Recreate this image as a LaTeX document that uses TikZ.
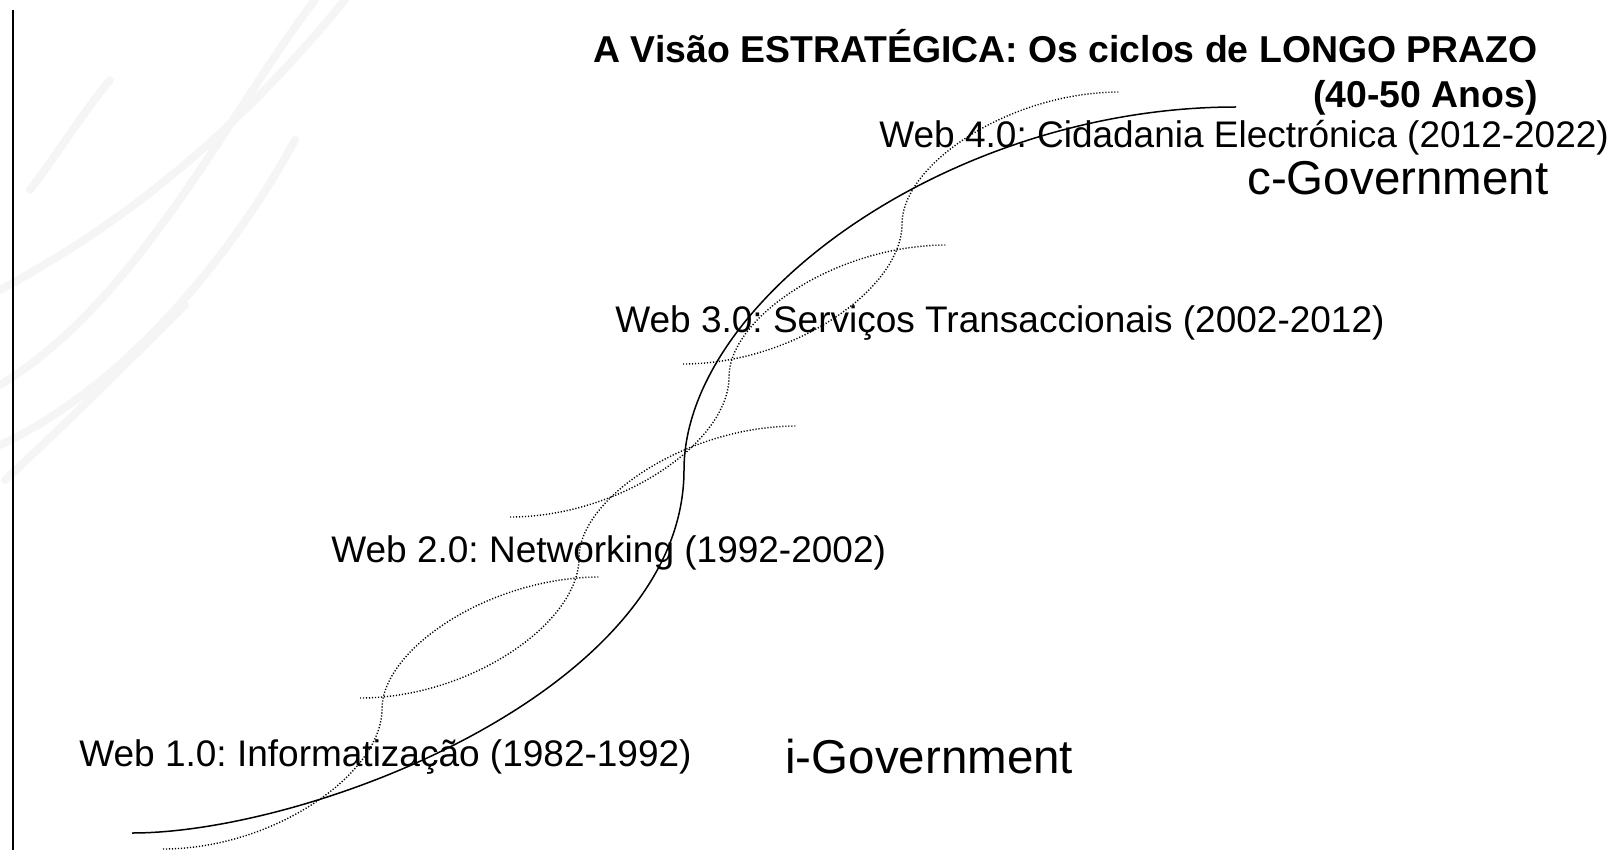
\documentclass[tikz,border=0pt]{standalone}
\usepackage{fontspec}
\setmainfont{Liberation Sans}
\frenchspacing

\begin{document}
\begin{tikzpicture}[x=0.5pt, y=-0.5pt,
    era/.style={anchor=base west, inner sep=0pt, font=\fontsize{18.5}{22.5}\selectfont},
    gov/.style={anchor=base west, inner sep=0pt, font=\fontsize{23.75}{28}\selectfont},
    wave/.style={line width=0.7pt, dash pattern=on 0.6pt off 0.9pt},
    swoosh/.style={black!4, line width=4pt, line cap=round}]
    \useasboundingbox (0,0) rectangle (1615,850);

    % faint background strokes
    \draw[swoosh] (0,290) .. controls (120,225) and (230,140) .. (345,0);
    \draw[swoosh] (0,385) .. controls (140,300) and (230,110) .. (315,0);
    \draw[swoosh] (0,445) .. controls (120,390) and (230,260) .. (295,140);
    \draw[swoosh] (5,480) .. controls (70,420) and (140,350) .. (185,305);
    \draw[swoosh] (30,190) .. controls (60,150) and (85,110) .. (110,80);

    % left rule
    \draw[line width=0.6pt] (13,10) -- (13,850);

    % title
    \node[anchor=base east, inner sep=0pt, align=right, font=\bfseries\fontsize{18.7}{22.5}\selectfont] (title) at (1538,108) {A Visão ESTRATÉGICA: Os ciclos de LONGO PRAZO\\(40-50 Anos)};

    % long cycle
    \draw[line width=0.75pt] (132,833) .. controls (310,833) and (684,690) .. (684,470)
        .. controls (684,300) and (950,107) .. (1236,107);

    % short cycles
    \draw[wave, shift={(163,849)}] (0,0) .. controls (110,0) and (219,-75) .. (219,-140) .. controls (219,-200) and (327,-272) .. (437,-272);
    \draw[wave, shift={(360,698)}] (0,0) .. controls (110,0) and (219,-75) .. (219,-140) .. controls (219,-200) and (327,-272) .. (437,-272);
    \draw[wave, shift={(510,517)}] (0,0) .. controls (110,0) and (219,-75) .. (219,-140) .. controls (219,-200) and (327,-272) .. (437,-272);
    \draw[wave, shift={(683,364)}] (0,0) .. controls (110,0) and (219,-75) .. (219,-140) .. controls (219,-200) and (327,-272) .. (437,-272);

    % labels
    \node[era] (web4) at (879,148) {Web 4.0: Cidadania Electrónica (2012-2022)};
    \node[gov] (cgov) at (1247,195) {c-Government};
    \node[era] (web3) at (615,332) {Web 3.0: Serviços Transaccionais (2002-2012)};
    \node[era] (web2) at (331,562) {Web 2.0: Networking (1992-2002)};
    \node[era] (web1) at (79,766) {Web 1.0: Informatização (1982-1992)};
    \node[gov] (igov) at (785,773) {i-Government};
\end{tikzpicture}
\end{document}
